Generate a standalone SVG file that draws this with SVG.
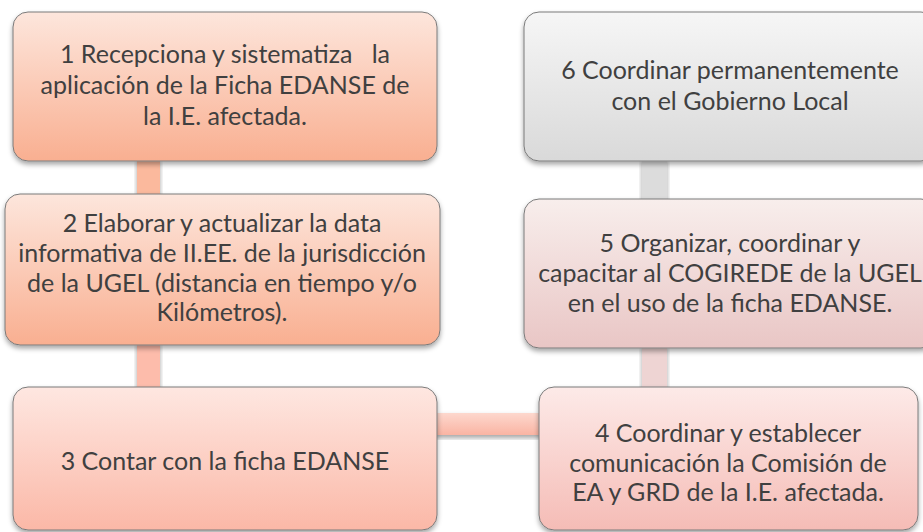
<svg xmlns="http://www.w3.org/2000/svg" width="923" height="532" viewBox="0 0 923 532">
<defs>
  <linearGradient id="g1" x1="0" y1="0" x2="0" y2="1"><stop offset="0" stop-color="#fde6dc"/><stop offset="1" stop-color="#f9af91"/></linearGradient>
  <linearGradient id="g3" x1="0" y1="0" x2="0" y2="1"><stop offset="0" stop-color="#fee7e1"/><stop offset="1" stop-color="#fbb8a7"/></linearGradient>
  <linearGradient id="g4" x1="0" y1="0" x2="0" y2="1"><stop offset="0" stop-color="#fdeae8"/><stop offset="1" stop-color="#f5bcb6"/></linearGradient>
  <linearGradient id="g5" x1="0" y1="0" x2="0" y2="1"><stop offset="0" stop-color="#f8eeec"/><stop offset="1" stop-color="#e9c6c5"/></linearGradient>
  <linearGradient id="g6" x1="0" y1="0" x2="0" y2="1"><stop offset="0" stop-color="#f6f6f6"/><stop offset="1" stop-color="#d9d9d9"/></linearGradient>
  <linearGradient id="gh" x1="0" y1="0" x2="0" y2="1"><stop offset="0" stop-color="#fdd8ce"/><stop offset="1" stop-color="#fab4a3"/></linearGradient>
  <filter id="sh" x="-10%" y="-10%" width="120%" height="130%">
    <feDropShadow dx="0" dy="3" stdDeviation="2.5" flood-color="#000" flood-opacity="0.35"/>
  </filter>
</defs>
<style>
  .box { stroke: #7a7a7a; stroke-width: 1; filter: url(#sh); }
  .con { filter: url(#sh); }
  text { font-family: Lato, "Open Sans", "Liberation Sans", sans-serif; font-size: 25px; fill: #404040; text-anchor: middle; white-space: pre; }
</style>
<g id="connectors">
  <rect class="con" x="137" y="158" width="23" height="40" fill="#fbb99d"/>
  <rect class="con" x="137" y="342" width="23" height="48" fill="#fdbcab"/>
  <rect class="con" x="433" y="413" width="110" height="22" fill="url(#gh)"/>
  <rect class="con" x="642" y="345" width="25" height="45" fill="#eed4d3"/>
  <rect class="con" x="642" y="158" width="25" height="44" fill="#dcdcdc"/>
</g>
<g id="n1">
  <rect class="box" x="13" y="12" width="424" height="149" rx="15" fill="url(#g1)"/>
  <text x="225" y="63" xml:space="preserve">1 Recepciona y sistematiza   la</text>
  <text x="225" y="94">aplicación de la Ficha EDANSE de</text>
  <text x="225" y="125">la I.E. afectada.</text>
</g>
<g id="n2">
  <rect class="box" x="5" y="194" width="435" height="151" rx="15" fill="url(#g1)"/>
  <text x="222" y="232">2 Elaborar y actualizar la data</text>
  <text x="222" y="262">informativa de II.EE. de la jurisdicción</text>
  <text x="222" y="292">de la UGEL (distancia en tiempo y/o</text>
  <text x="222" y="321">Kilómetros).</text>
</g>
<g id="n3">
  <rect class="box" x="13" y="387" width="424" height="143" rx="15" fill="url(#g3)"/>
  <text x="225" y="470">3 Contar con la ficha EDANSE</text>
</g>
<g id="n4">
  <rect class="box" x="539" y="387" width="379" height="143" rx="15" fill="url(#g4)"/>
  <text x="728" y="442">4 Coordinar y establecer</text>
  <text x="728" y="472">comunicación la Comisión de</text>
  <text x="728" y="501">EA y GRD de la I.E. afectada.</text>
</g>
<g id="n5">
  <rect class="box" x="524" y="199" width="412" height="149" rx="15" fill="url(#g5)"/>
  <text x="730" y="252">5 Organizar, coordinar y</text>
  <text x="730" y="282">capacitar al COGIREDE de la UGEL</text>
  <text x="730" y="312">en el uso de la ficha EDANSE.</text>
</g>
<g id="n6">
  <rect class="box" x="524" y="12" width="412" height="149" rx="15" fill="url(#g6)"/>
  <text x="730" y="79">6 Coordinar permanentemente</text>
  <text x="730" y="110">con el Gobierno Local</text>
</g>
</svg>
